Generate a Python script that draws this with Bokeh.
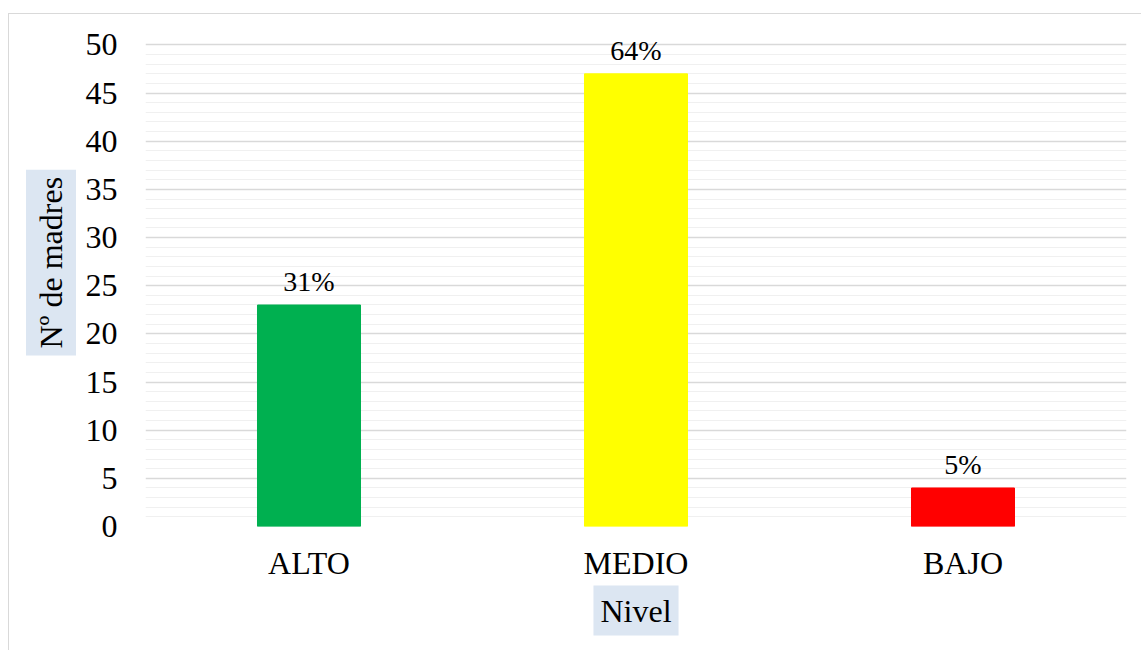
from bokeh.plotting import figure
from bokeh.models import ColumnDataSource, FixedTicker, Range1d, FactorRange, Title, InlineStyleSheet
from bokeh.core.properties import value
from bokeh.embed import file_html
from bokeh.resources import INLINE

categories = ["ALTO", "MEDIO", "BAJO"]
counts = [23, 47, 4]
percent_labels = ["31%", "64%", "5%"]
bar_colors = ["#00B050", "#FFFF00", "#FF0000"]
y_title = "Nº de madres"
x_title = "Nivel"
y_major_ticks = [0, 5, 10, 15, 20, 25, 30, 35, 40, 45, 50]

FONT = "Liberation Serif"

src = ColumnDataSource(dict(cat=categories, n=counts, lab=percent_labels, col=bar_colors))

border_css = InlineStyleSheet(css=""":host::after { content: ''; position: absolute; left: 8px; top: 13px;
right: 0px; bottom: 0px; border-top: 1.5px solid #d9d9d9; border-left: 1.5px solid #d9d9d9;
pointer-events: none; z-index: 10; }""")

p = figure(x_range=FactorRange(*categories), y_range=Range1d(0, 51.5),
           width=1141, height=650, output_backend="svg", toolbar_location=None,
           min_border_left=145, min_border_right=15, min_border_top=30, min_border_bottom=124,
           stylesheets=[border_css])
p.outline_line_color = None

p.vbar(x="cat", top="n", width=0.315, color="col", source=src)
p.text(x="cat", y="n", text="lab", source=src, text_align="center", text_baseline="alphabetic",
       y_offset=-23, text_font=value(FONT), text_font_size="28px", text_color="black")

minor = [v for v in range(0, 51) if v % 5 != 0]
p.yaxis.ticker = FixedTicker(ticks=y_major_ticks, minor_ticks=minor)
p.xgrid.grid_line_color = None
p.ygrid.grid_line_color = "#d9d9d9"
p.ygrid.grid_line_width = 1.5
p.ygrid.minor_grid_line_color = "#f0f0f0"
p.ygrid.minor_grid_line_width = 1.2

for ax in (p.xaxis[0], p.yaxis[0]):
    ax.axis_line_color = None
    ax.major_tick_line_color = None
    ax.minor_tick_line_color = None
    ax.major_tick_in = 0
    ax.major_tick_out = 0
    ax.minor_tick_out = 0
    ax.major_label_text_font = FONT
    ax.major_label_text_font_size = "32px"
    ax.major_label_text_color = "black"
p.yaxis.major_label_standoff = 28
p.xaxis.major_label_standoff = 18

p.add_layout(Title(text=y_title, align="left", text_font=FONT, text_font_size="32px",
                   text_font_style="normal", text_color="black", background_fill_color="#dce6f2",
                   padding=7, standoff=13, offset=171), "left")
p.add_layout(Title(text=x_title, align="center", text_font=FONT, text_font_size="32px",
                   text_font_style="normal", text_color="black", background_fill_color="#dce6f2",
                   padding=7, standoff=0), "below")

open("out.html", "w").write(file_html(p, INLINE))
